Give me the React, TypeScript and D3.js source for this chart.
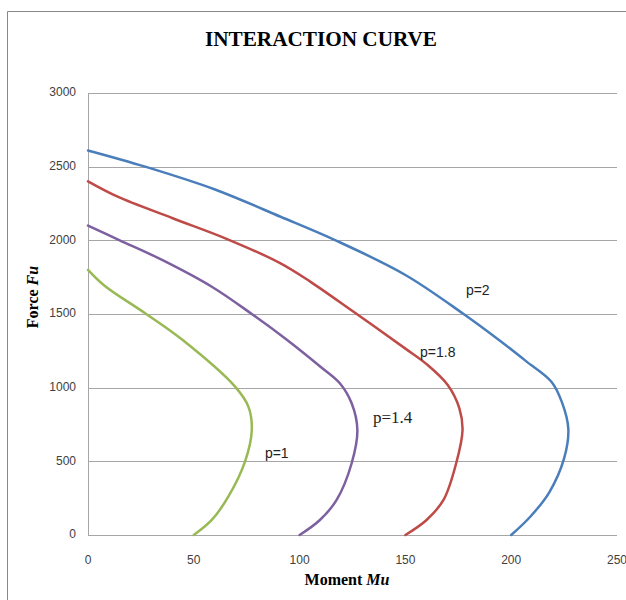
import React from "react";
import * as d3 from "d3";

type Pt = [number, number];

// Moment Mu, Force Fu
const curveP2: Pt[] = [[0,2610],[27,2500],[60,2345],[91,2160],[117,2000],[150,1765],[177,1505],[195,1315],[207,1180],[219,1040],[224,900],[227,720],[225,520],[218,290],[209,124],[200,0]];
const curveP18: Pt[] = [[0,2400],[14,2296],[40,2150],[66,2007],[91,1844],[105,1720],[125,1520],[150,1265],[160,1160],[170,1018],[175.5,860],[177,713],[174,487],[168,238],[160,102],[150,0]];
const curveP14: Pt[] = [[0,2100],[15,2000],[35,1867],[58.5,1685],[77.4,1500],[93.5,1330],[110,1140],[119,1030],[124.6,894],[127.3,713],[124.6,487],[117.5,238],[109.6,102],[100,0]];
const curveP1: Pt[] = [[0,1800],[8,1690],[27,1505],[44.3,1328],[69.5,1007],[75.8,871],[77.4,713],[74.2,498],[66.3,260],[58.5,102],[50,0]];

const seriesNames = ["p=2", "p=1.8", "p=1.4", "p=1"];
const seriesData = [curveP2, curveP18, curveP14, curveP1];
const seriesColors = ["#4A7EBB", "#BE4B48", "#7D60A0", "#98B954"];

const xTicks = [0, 50, 100, 150, 200, 250];
const yTicks = [0, 500, 1000, 1500, 2000, 2500, 3000];

// label anchors (data coords)
const labelPos: { name: string; m: number; f: number; serif: boolean }[] = [
  { name: "p=2", m: 178.6, f: 1627, serif: false },
  { name: "p=1.8", m: 156.9, f: 1207, serif: false },
  { name: "p=1.4", m: 134.7, f: 759, serif: true },
  { name: "p=1", m: 83.6, f: 523, serif: false },
];

export default function App() {
  const left = 88, right = 617, top = 93, bottom = 535;
  const x = d3.scaleLinear().domain([0, 250]).range([left, right]);
  const y = d3.scaleLinear().domain([0, 3000]).range([bottom, top]);
  const line = d3
    .line<Pt>()
    .x((d) => x(d[0]))
    .y((d) => y(d[1]))
    .curve(d3.curveCatmullRom.alpha(0.5));

  const sans = "'Liberation Sans', Arial, sans-serif";
  const serif = "'Liberation Serif', 'Times New Roman', serif";

  return (
    <svg
      width={626}
      height={600}
      style={{ position: "absolute", left: 0, top: 0, background: "#fff" }}
    >
      <rect x={0} y={0} width={626} height={600} fill="#fff" />
      {/* outer border */}
      <line x1={7.5} y1={11.5} x2={626} y2={11.5} stroke="#888" />
      <line x1={7.5} y1={11.5} x2={7.5} y2={600} stroke="#888" />

      <text
        x={321}
        y={46}
        textAnchor="middle"
        fontFamily={serif}
        fontWeight="bold"
        fontSize={22}
        textLength={232}
        lengthAdjust="spacingAndGlyphs"
        fill="#000"
      >
        INTERACTION CURVE
      </text>

      {/* gridlines */}
      {yTicks.map((t) => (
        <line
          key={"g" + t}
          x1={left}
          x2={right}
          y1={Math.round(y(t)) + 0.5}
          y2={Math.round(y(t)) + 0.5}
          stroke="#a6a6a6"
          strokeWidth={1}
        />
      ))}
      <line x1={left + 0.5} x2={left + 0.5} y1={top} y2={bottom} stroke="#a6a6a6" />

      {/* y tick labels */}
      {yTicks.map((t) => (
        <text
          key={"yl" + t}
          x={76}
          y={y(t)}
          textAnchor="end"
          dominantBaseline="middle"
          fontFamily={sans}
          fontSize={12}
          fill="#404040"
        >
          {t}
        </text>
      ))}
      {/* x tick labels */}
      {xTicks.map((t) => (
        <text
          key={"xl" + t}
          x={x(t)}
          y={564}
          textAnchor="middle"
          fontFamily={sans}
          fontSize={12}
          fill="#404040"
        >
          {t}
        </text>
      ))}

      {/* series */}
      {seriesData.map((d, i) => (
        <path
          key={seriesNames[i]}
          d={line(d) || ""}
          fill="none"
          stroke={seriesColors[i]}
          strokeWidth={2.5}
          strokeLinejoin="round"
          strokeLinecap="round"
        />
      ))}

      {/* series labels */}
      {labelPos.map((l) => (
        <text
          key={"lab" + l.name}
          x={x(l.m)}
          y={y(l.f)}
          fontFamily={l.serif ? serif : sans}
          fontSize={l.serif ? 17 : 14}
          fill="#222"
        >
          {l.name}
        </text>
      ))}

      {/* axis titles */}
      <text
        x={347}
        y={585}
        textAnchor="middle"
        fontFamily={serif}
        fontWeight="bold"
        fontSize={16}
        fill="#000"
      >
        Moment <tspan fontStyle="italic">Mu</tspan>
      </text>
      <text
        transform="translate(38,297) rotate(-90)"
        textAnchor="middle"
        fontFamily={serif}
        fontWeight="bold"
        fontSize={16}
        fill="#000"
      >
        Force <tspan fontStyle="italic">Fu</tspan>
      </text>
    </svg>
  );
}
